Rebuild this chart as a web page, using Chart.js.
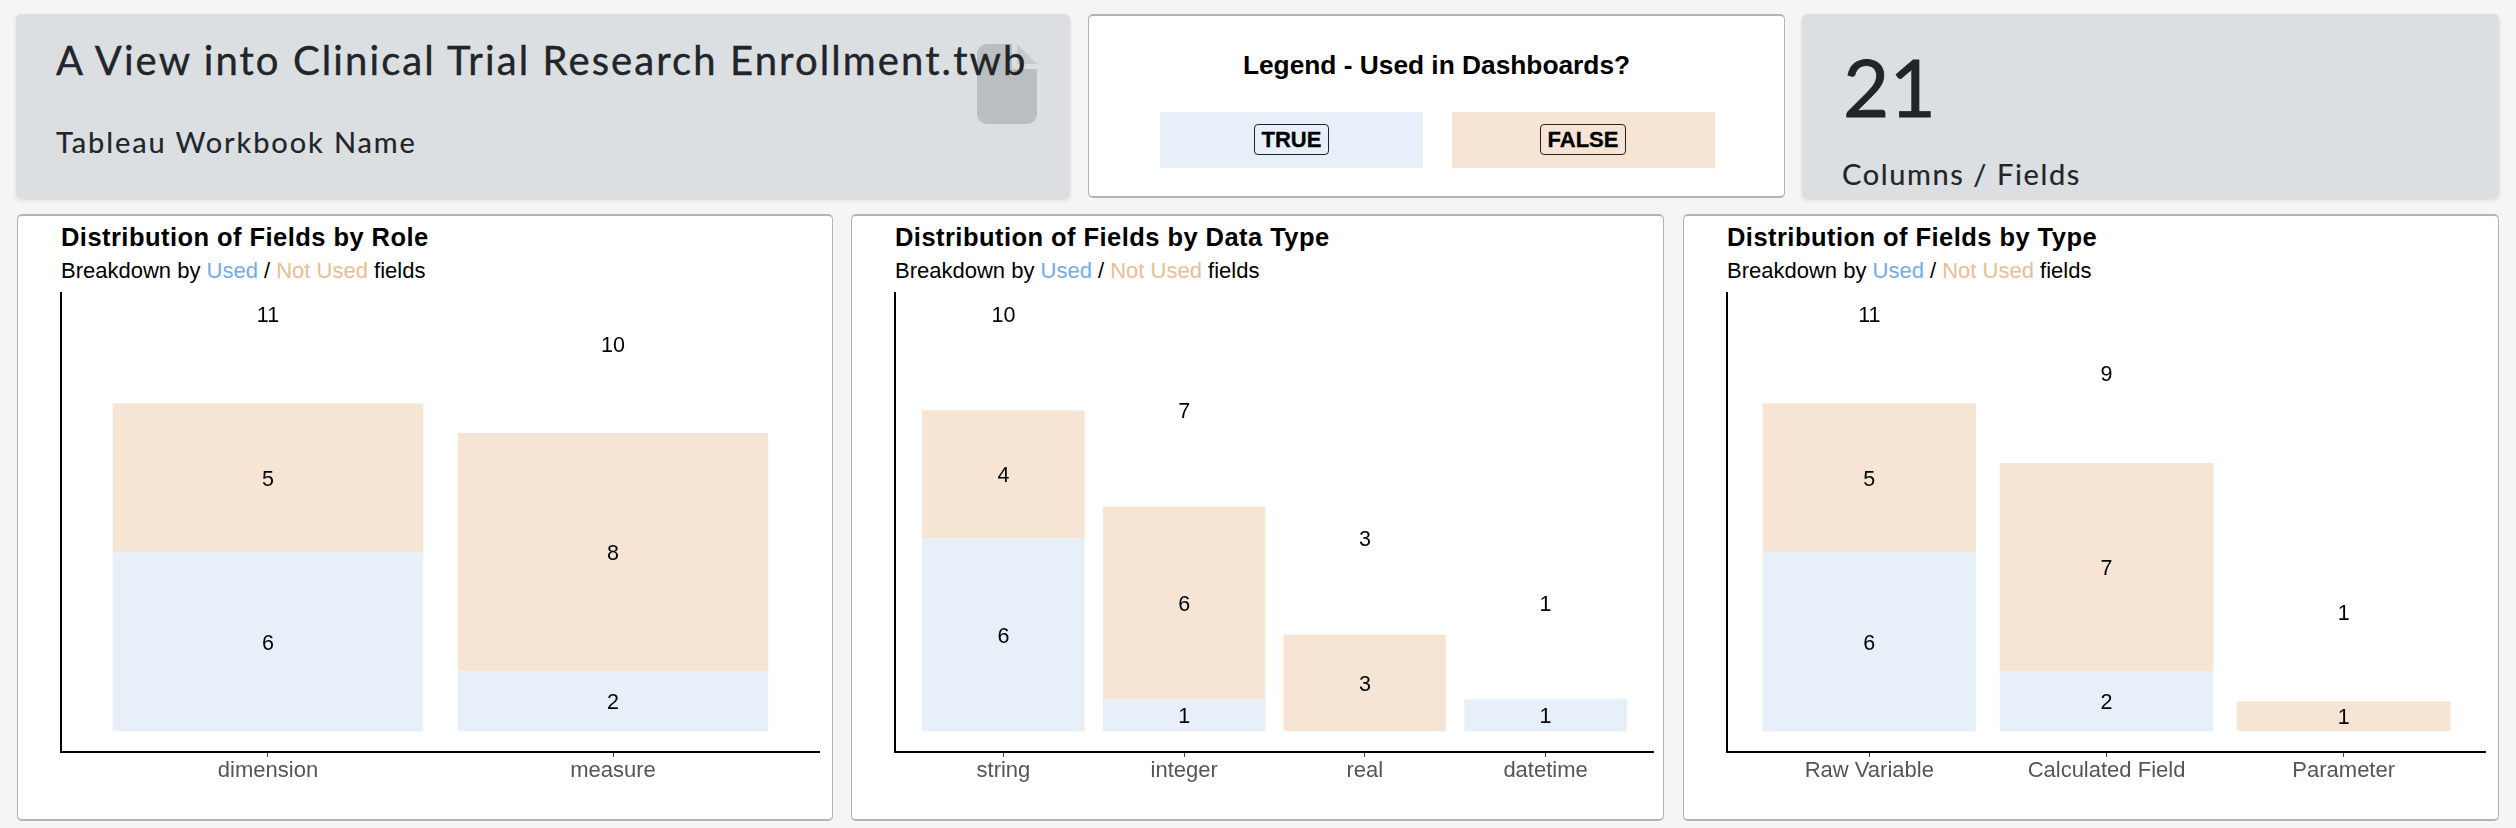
<!DOCTYPE html>
<html>
<head>
<meta charset="utf-8">
<title>Clinical Trial Workbook</title>
<script src="https://cdn.jsdelivr.net/npm/chart.js@4/dist/chart.umd.js"></script>
<style>
  html, body { margin: 0; padding: 0; background: #f5f5f5; }
  body { position: relative; width: 2516px; height: 828px; overflow: hidden; font-family: "Liberation Sans", Arial, sans-serif; color: #000; }
  .card { position: absolute; box-sizing: border-box; border-radius: 5px; }
  .grey { background: #dcdfe2; box-shadow: 0 2px 4px rgba(0,0,0,.12); }
  .white { background: #fff; border: 1px solid #b4b4b4; border-top-width: 2px; border-bottom-width: 2px; }
  .txt { position: absolute; white-space: nowrap; }
  .big { font-family: Lato, "Open Sans", sans-serif; color: #212529; -webkit-text-stroke: 0.4px #212529; }
  .used { color: #74ace8; }
  .notused { color: #e9be92; }
  .title { font-size: 25.5px; font-weight: bold; letter-spacing: 0.45px; }
  .sub { font-size: 22px; }
  .swatch { position: absolute; top: 112px; height: 56px; width: 263px; }
  .tag { position: absolute; top: 124px; height: 31px; box-sizing: border-box; border: 1px solid #222; border-radius: 4px; font-size: 22px; font-weight: bold; line-height: 29px; text-align: center; -webkit-text-stroke: 0.3px #000; }
  canvas { position: absolute; }
</style>
</head>
<body>

<div class="card grey" style="left:16px;top:14px;width:1054px;height:184px"></div>
<svg style="position:absolute;left:977px;top:44px" width="60" height="80" viewBox="0 0 60 80">
  <path d="M10 0 H35 V25 H60 V70 a10 10 0 0 1 -10 10 H10 a10 10 0 0 1 -10 -10 V10 a10 10 0 0 1 10 -10 Z" fill="#babec0"/>
  <path d="M40 0 L60 20 H40 Z" fill="#c6cacc"/>
</svg>
<div class="txt big" style="left:56px;top:36px;font-size:40px;letter-spacing:2.1px">A View into Clinical Trial Research Enrollment.twb</div>
<div class="txt big" style="left:56px;top:124px;font-size:29px;letter-spacing:1.9px;-webkit-text-stroke-width:0.2px">Tableau Workbook Name</div>

<div class="card white" style="left:1088px;top:14px;width:697px;height:184px"></div>
<div class="txt" style="left:1088px;width:697px;text-align:center;top:50px;font-size:26.3px;font-weight:bold">Legend - Used in Dashboards?</div>
<div class="swatch" style="left:1160px;background:#e7f0f9"></div>
<div class="swatch" style="left:1452px;background:#f6e5d4"></div>
<div class="tag" style="left:1254px;width:75px;background:#e7f0f9">TRUE</div>
<div class="tag" style="left:1540px;width:86px;background:#f6e5d4">FALSE</div>

<div class="card grey" style="left:1802px;top:14px;width:697px;height:184px"></div>
<div class="txt big" style="left:1843px;top:38px;font-size:80px;-webkit-text-stroke-width:0.8px">21</div>
<div class="txt big" style="left:1842px;top:156px;font-size:29px;letter-spacing:1.6px;-webkit-text-stroke-width:0.2px">Columns / Fields</div>

<div class="card white" style="left:17px;top:214px;width:816px;height:607px"></div>
<div class="card white" style="left:851px;top:214px;width:813px;height:607px"></div>
<div class="card white" style="left:1683px;top:214px;width:816px;height:607px"></div>

<div class="txt title" style="left:61px;top:223px">Distribution of Fields by Role</div>
<div class="txt sub" style="left:61px;top:258px">Breakdown by <span class="used">Used</span> / <span class="notused">Not Used</span> fields</div>
<div class="txt title" style="left:895px;top:223px">Distribution of Fields by Data Type</div>
<div class="txt sub" style="left:895px;top:258px">Breakdown by <span class="used">Used</span> / <span class="notused">Not Used</span> fields</div>
<div class="txt title" style="left:1727px;top:223px">Distribution of Fields by Type</div>
<div class="txt sub" style="left:1727px;top:258px">Breakdown by <span class="used">Used</span> / <span class="notused">Not Used</span> fields</div>

<canvas id="roleChart" style="left:51px;top:284px" width="769" height="528"></canvas>
<canvas id="dataTypeChart" style="left:885px;top:284px" width="769" height="528"></canvas>
<canvas id="typeChart" style="left:1717px;top:284px" width="769" height="528"></canvas>

<script>
// valores
const roleLabels = ['dimension', 'measure'];
const roleUsed = [6, 2];
const roleNotUsed = [5, 8];

const dataTypeLabels = ['string', 'integer', 'real', 'datetime'];
const dataTypeUsed = [6, 1, 0, 1];
const dataTypeNotUsed = [4, 6, 3, 0];

const typeLabels = ['Raw Variable', 'Calculated Field', 'Parameter'];
const typeUsed = [6, 2, 0];
const typeNotUsed = [5, 7, 1];

const USED_COLOR = '#e7f0f9';
const NOT_USED_COLOR = '#f6e5d4';
const TOTAL_GAP = 3; // o total fica 3 unidades acima da barra

// Desenha o valor no meio de cada barra e o total acima da pilha
const valueLabels = {
    id: 'valueLabels',
    afterDatasetsDraw(chart, args, opts) {
        const ctx = chart.ctx;
        const y = chart.scales.y;
        ctx.save();
        ctx.font = '21.5px "Liberation Sans", Arial, sans-serif';
        ctx.fillStyle = '#000';
        ctx.textAlign = 'center';
        ctx.textBaseline = 'middle';
        chart.data.datasets.forEach((ds, d) => {
            chart.getDatasetMeta(d).data.forEach((bar, i) => {
                if (ds.data[i].y > 0) {
                    ctx.fillText(ds.data[i].y, bar.x, (bar.y + bar.base) / 2 + 2);
                }
            });
        });
        opts.totals.forEach((t, i) => {
            ctx.fillText(t, chart.scales.x.getPixelForValue(i), y.getPixelForValue(t + TOTAL_GAP) + 2);
        });
        ctx.restore();
    }
};

function drawChart(id, labels, used, notUsed) {
    const totals = labels.map((l, i) => used[i] + notUsed[i]);
    const top = Math.max(...totals) + TOTAL_GAP;

    new Chart(document.getElementById(id), {
        type: 'bar',
        data: {
            datasets: [
                { label: 'TRUE', data: used.map((v, i) => ({ x: i, y: v })), backgroundColor: USED_COLOR },
                { label: 'FALSE', data: notUsed.map((v, i) => ({ x: i, y: v })), backgroundColor: NOT_USED_COLOR }
            ]
        },
        options: {
            responsive: false,
            animation: false,
            devicePixelRatio: 1,
            categoryPercentage: 0.9,
            barPercentage: 1,
            layout: { padding: { left: 10, top: 9, right: 0, bottom: 0 } },
            plugins: {
                legend: { display: false },
                tooltip: { enabled: false },
                valueLabels: { totals: totals }
            },
            scales: {
                x: {
                    type: 'linear',
                    stacked: true,
                    offset: false,
                    min: -0.6,
                    max: labels.length - 0.4,
                    afterBuildTicks: axis => { axis.ticks = labels.map((l, i) => ({ value: i })); },
                    afterFit: axis => { axis.height = 60; },
                    grid: { drawOnChartArea: false, drawTicks: true, tickLength: 5, tickColor: '#444', offset: false },
                    border: { color: '#000', width: 2 },
                    ticks: {
                        autoSkip: false,
                        maxRotation: 0,
                        padding: 1,
                        color: '#555',
                        font: { family: '"Liberation Sans", Arial, sans-serif', size: 22 },
                        callback: v => labels[v]
                    }
                },
                y: {
                    stacked: true,
                    min: -0.05 * top,
                    max: top + 0.05 * top,
                    afterFit: axis => { axis.width = 0; },
                    grid: { display: false },
                    border: { color: '#000', width: 2 },
                    ticks: { display: false }
                }
            }
        },
        plugins: [valueLabels]
    });
}

drawChart('roleChart', roleLabels, roleUsed, roleNotUsed);
drawChart('dataTypeChart', dataTypeLabels, dataTypeUsed, dataTypeNotUsed);
drawChart('typeChart', typeLabels, typeUsed, typeNotUsed);
</script>
</body>
</html>
